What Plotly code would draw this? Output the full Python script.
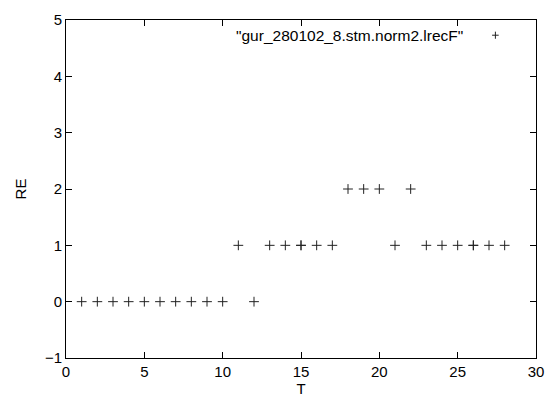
import plotly.graph_objects as go

# data
t_vals = [1, 2, 3, 4, 5, 6, 7, 8, 9, 10, 11, 12, 13, 14, 15, 15, 16, 17, 18, 19,
          20, 21, 22, 23, 24, 25, 26, 26, 27, 28]
re_vals = [0, 0, 0, 0, 0, 0, 0, 0, 0, 0, 1, 0, 1, 1, 1, 1, 1, 1, 2, 2,
           2, 1, 2, 1, 1, 1, 1, 1, 1, 1]
series_name = '"gur_280102_8.stm.norm2.lrecF"'

font = dict(family="Liberation Sans, Arial, sans-serif", size=15, color="black")

fig = go.Figure()
fig.add_trace(go.Scatter(
    x=t_vals, y=re_vals, mode="markers", name=series_name,
    marker=dict(symbol="cross-thin", size=7, color="black",
                line=dict(color="#222222", width=1)),
    showlegend=False,
))

axis_common = dict(
    showgrid=False, zeroline=False, showline=True, linecolor="black", linewidth=1,
    mirror="allticks", ticks="inside", ticklen=6, tickcolor="black", tickwidth=1,
    tickfont=font,
)

fig.update_xaxes(range=[0, 30], dtick=5, tick0=0,
                 title=dict(text="T", font=font, standoff=2), **axis_common)
fig.update_yaxes(range=[-1, 5], dtick=1, tick0=0,
                 title=dict(text="RE", font=font, standoff=14), **axis_common)

# gnuplot-style key: text then sample on the right
fig.add_annotation(text=series_name, xref="paper", yref="paper", x=0.848, y=0.955,
                   xanchor="right", yanchor="middle", showarrow=False,
                   font=dict(font, size=15.5))
kx, ky = 0.9136, 0.955
fig.add_shape(type="line", xref="paper", yref="paper",
              x0=kx - 0.007, x1=kx + 0.007, y0=ky, y1=ky, line=dict(color="#222222", width=1))
fig.add_shape(type="line", xref="paper", yref="paper",
              x0=kx, x1=kx, y0=ky - 0.0105, y1=ky + 0.0105, line=dict(color="#222222", width=1))

fig.update_layout(
    width=554, height=403,
    margin=dict(l=66, r=10, t=20, b=44),
    plot_bgcolor="white", paper_bgcolor="white",
    font=font,
)

# drop the default 8px body margin (and any scrollbars) so the figure fills the window
page_css = ("document.body.style.margin='0';"
            "document.body.style.overflow='hidden';"
            "document.documentElement.style.overflow='hidden';")
fig.write_html("out.html", config={"displayModeBar": False}, post_script=page_css)
